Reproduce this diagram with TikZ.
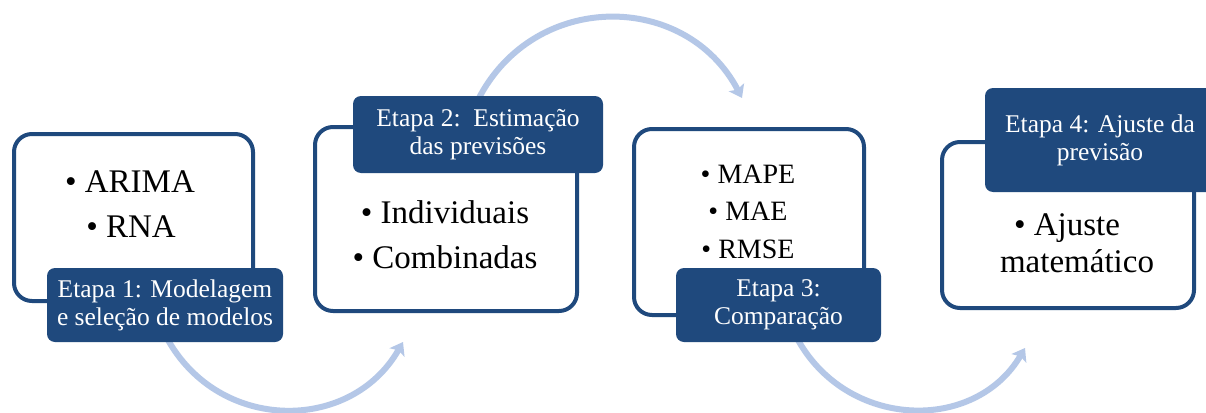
\documentclass[tikz,border=0pt]{standalone}
\usepackage{fontspec}
\setmainfont{Liberation Serif}
\usetikzlibrary{arrows.meta,calc,backgrounds}
\definecolor{dblue}{HTML}{1F497D}
\definecolor{lblue}{HTML}{B4C7E7}
\begin{document}
\begin{tikzpicture}[x=1pt,y=-1pt,
  box/.style={draw=dblue, line width=4pt, fill=white, rounded corners=18pt, inner sep=0pt},
  lab/.style={fill=dblue, rounded corners=8pt, text=white, align=center, inner sep=0pt, font=\fontsize{25.5}{28}\selectfont},
  item/.style={anchor=base, inner sep=0pt, font=\fontsize{33}{40}\selectfont},
  sitem/.style={anchor=base, inner sep=0pt, font=\fontsize{28}{34}\selectfont},
  flow/.style={draw=lblue, line width=6pt, -{Stealth[length=12pt,width=17pt,inset=2.5pt]}}]
\useasboundingbox (0,0) rectangle (1206,412);

% boxes
\node[box, minimum width=239pt, minimum height=167pt] (b1) at (133.5,217.5) {};
\node[box, minimum width=262pt, minimum height=184pt] (b2) at (446,219) {};
\node[box, minimum width=230pt, minimum height=186pt] (b3) at (749,222) {};
\node[box, minimum width=252pt, minimum height=166pt] (b4) at (1068,225) {};

% labels
\node[lab, minimum width=236pt, minimum height=74pt] (l1) at (165,305) {Etapa 1: Modelagem\\e seleção de modelos};
\node[lab, minimum width=250pt, minimum height=77pt] (l2) at (478,134.5) {Etapa 2:\ \ Estimação\\das previsões};
\node[lab, minimum width=205pt, minimum height=74pt] (l3) at (778.5,305) {Etapa 3:\\Comparação};
\node[lab, minimum width=230pt, minimum height=104pt] (l4) at (1100,140) {Etapa 4: Ajuste da\\previsão};

% texts
\node[item] (t1a) at (130,192) {• ARIMA};
\node[item] (t1b) at (131,237) {• RNA};
\node[item] (t2a) at (445,223) {• Individuais};
\node[item] (t2b) at (445,268) {• Combinadas};
\node[sitem] (t3a) at (748,183) {• MAPE};
\node[sitem] (t3b) at (748,220) {• MAE};
\node[sitem] (t3c) at (748,258) {• RMSE};
\node[item] (t4a) at (1067,235) {• Ajuste};
\node[item] (t4b) at (1077,272) {matemático};

% arrows
\coordinate (e1) at (403,342);
\coordinate (e2) at (742,98);
\coordinate (e3) at (1025,348);
\begin{scope}[on background layer]
\fill[white] (0,0) rectangle (1206,412);
\draw[flow] ($(l1.south)+(2,-4)$) .. controls (219,433) and (351,433) .. (e1);
\draw[flow] ($(l2.north)+(0,4)$) .. controls (534,-10) and (686,-9) .. (e2);
\draw[flow] ($(l3.south)+(18.5,-4)$) .. controls (847,430) and (975,433) .. (e3);
\end{scope}
\end{tikzpicture}
\end{document}
